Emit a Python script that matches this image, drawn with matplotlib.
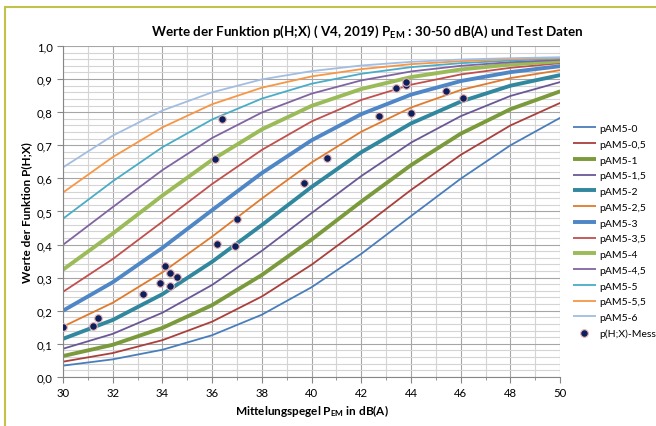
import matplotlib
matplotlib.use("Agg")
import matplotlib.pyplot as plt
from matplotlib.ticker import MultipleLocator, FuncFormatter
from matplotlib.patches import Rectangle

plt.rcParams['font.family'] = ['Lato', 'DejaVu Sans']
plt.rcParams['mathtext.fontset'] = 'custom'
plt.rcParams['mathtext.rm'] = 'Lato'
plt.rcParams['mathtext.bf'] = 'Lato:bold'

# Mittelungspegel (dB(A))
pegel = [30, 32, 34, 36, 38, 40, 42, 44, 46, 48, 50]

# p(H;X) je AM5-Stufe
pAM5_0 = [0.034, 0.053, 0.082, 0.126, 0.188, 0.271, 0.372, 0.486, 0.599, 0.700, 0.783]
pAM5_05 = [0.046, 0.072, 0.111, 0.167, 0.243, 0.339, 0.450, 0.565, 0.671, 0.760, 0.828]
pAM5_1 = [0.063, 0.097, 0.148, 0.217, 0.308, 0.415, 0.530, 0.640, 0.735, 0.809, 0.863]
pAM5_15 = [0.085, 0.130, 0.194, 0.278, 0.381, 0.495, 0.607, 0.708, 0.788, 0.849, 0.891]
pAM5_2 = [0.115, 0.172, 0.250, 0.348, 0.459, 0.574, 0.679, 0.766, 0.832, 0.880, 0.912]
pAM5_25 = [0.152, 0.224, 0.316, 0.424, 0.539, 0.648, 0.741, 0.814, 0.867, 0.903, 0.927]
pAM5_3 = [0.200, 0.286, 0.390, 0.504, 0.616, 0.715, 0.794, 0.853, 0.894, 0.921, 0.939]
pAM5_35 = [0.257, 0.356, 0.469, 0.583, 0.686, 0.772, 0.837, 0.883, 0.914, 0.934, 0.948]
pAM5_4 = [0.324, 0.433, 0.548, 0.656, 0.748, 0.819, 0.870, 0.906, 0.929, 0.944, 0.954]
pAM5_45 = [0.399, 0.513, 0.625, 0.722, 0.799, 0.856, 0.896, 0.923, 0.940, 0.951, 0.958]
pAM5_5 = [0.478, 0.591, 0.694, 0.778, 0.841, 0.886, 0.916, 0.936, 0.948, 0.956, 0.962]
pAM5_55 = [0.557, 0.664, 0.754, 0.824, 0.874, 0.908, 0.930, 0.945, 0.954, 0.960, 0.964]
pAM5_6 = [0.633, 0.729, 0.805, 0.860, 0.899, 0.924, 0.941, 0.952, 0.959, 0.963, 0.966]

# Testdaten
mess_x = [30.0, 31.2, 31.4, 33.2, 33.9, 34.1, 34.3, 34.6, 34.3, 36.2, 36.9, 37.0,
          36.4, 36.1, 39.7, 40.6, 42.7, 44.0, 43.4, 43.8, 43.8, 45.4, 46.1]
mess_y = [0.152, 0.155, 0.179, 0.250, 0.283, 0.334, 0.315, 0.302, 0.274, 0.403, 0.395, 0.478,
          0.778, 0.658, 0.585, 0.661, 0.789, 0.796, 0.874, 0.882, 0.892, 0.864, 0.842]

labels = ['pAM5-0', 'pAM5-0,5', 'pAM5-1', 'pAM5-1,5', 'pAM5-2', 'pAM5-2,5', 'pAM5-3',
          'pAM5-3,5', 'pAM5-4', 'pAM5-4,5', 'pAM5-5', 'pAM5-5,5', 'pAM5-6']
kurven = [pAM5_0, pAM5_05, pAM5_1, pAM5_15, pAM5_2, pAM5_25, pAM5_3,
          pAM5_35, pAM5_4, pAM5_45, pAM5_5, pAM5_55, pAM5_6]
farben = ['#4a7ebb', '#a9403d', '#7a9a3c', '#6a5896', '#31879e', '#e07a2c', '#4f86c6',
          '#c0504d', '#9bbb59', '#8064a2', '#4bacc6', '#f79646', '#a3bde0']
breiten = [1.3, 1.3, 2.8, 1.3, 2.8, 1.3, 2.8, 1.3, 2.8, 1.3, 1.3, 1.3, 1.3]

fig = plt.figure(figsize=(6.56, 4.27), dpi=100)
ax = fig.add_axes([0.096, 0.115, 0.758, 0.775])

for y, lab, c, lw in zip(kurven, labels, farben, breiten):
    ax.plot(pegel, y, color=c, lw=lw, label=lab, solid_capstyle='butt')

ax.scatter(mess_x, mess_y, s=30, color='#0d1f5c', edgecolors='#e8b4b4', linewidths=0.8,
           zorder=5, label='p(H;X)-Mess')

ax.set_xlim(30, 50)
ax.set_ylim(0, 1)
ax.xaxis.set_major_locator(MultipleLocator(2))
ax.xaxis.set_minor_locator(MultipleLocator(1))
ax.yaxis.set_major_locator(MultipleLocator(0.1))
ax.yaxis.set_minor_locator(MultipleLocator(0.02))
ax.yaxis.set_major_formatter(FuncFormatter(lambda v, p: ('%.1f' % v).replace('.', ',')))
ax.grid(which='major', color='#a6a6a6', lw=0.8)
ax.grid(which='minor', color='#d4d4d4', lw=0.8)
ax.set_axisbelow(True)
for s in ['top', 'right']:
    ax.spines[s].set_visible(False)
for s in ['left', 'bottom']:
    ax.spines[s].set_color('#868686')
ax.tick_params(which='both', color='#868686', labelsize=8.2, direction='out')
ax.tick_params(which='major', length=4)
ax.tick_params(which='minor', length=2)
ax.tick_params(axis='y', which='minor', length=0)

ax.set_xlabel(r'Mittelungspegel $\mathbf{P_{EM}}$ in dB(A)', fontsize=8.5, fontweight='bold', labelpad=3)
ax.set_ylabel('Werte der Funktion P(H;X)', fontsize=8.5, fontweight='bold', labelpad=3)
fig.text(0.56, 0.925, r'Werte der Funktion p(H;X) ( V4, 2019) $\mathbf{P_{EM}}$ : 30-50 dB(A) und Test Daten',
         ha='center', va='center', fontsize=9.6, fontweight='bold')

fig.legend(loc='upper left', bbox_to_anchor=(0.865, 0.72), frameon=False, fontsize=7.5,
           handlelength=2.2, labelspacing=0.62, handletextpad=0.4, borderpad=0)

fig.add_artist(Rectangle((5 / 656, -0.1), 1.2, 1.1 - 8 / 427, transform=fig.transFigure,
                         fill=False, edgecolor='#c2c24a', lw=1.5))

fig.savefig('out.png', dpi=100)
